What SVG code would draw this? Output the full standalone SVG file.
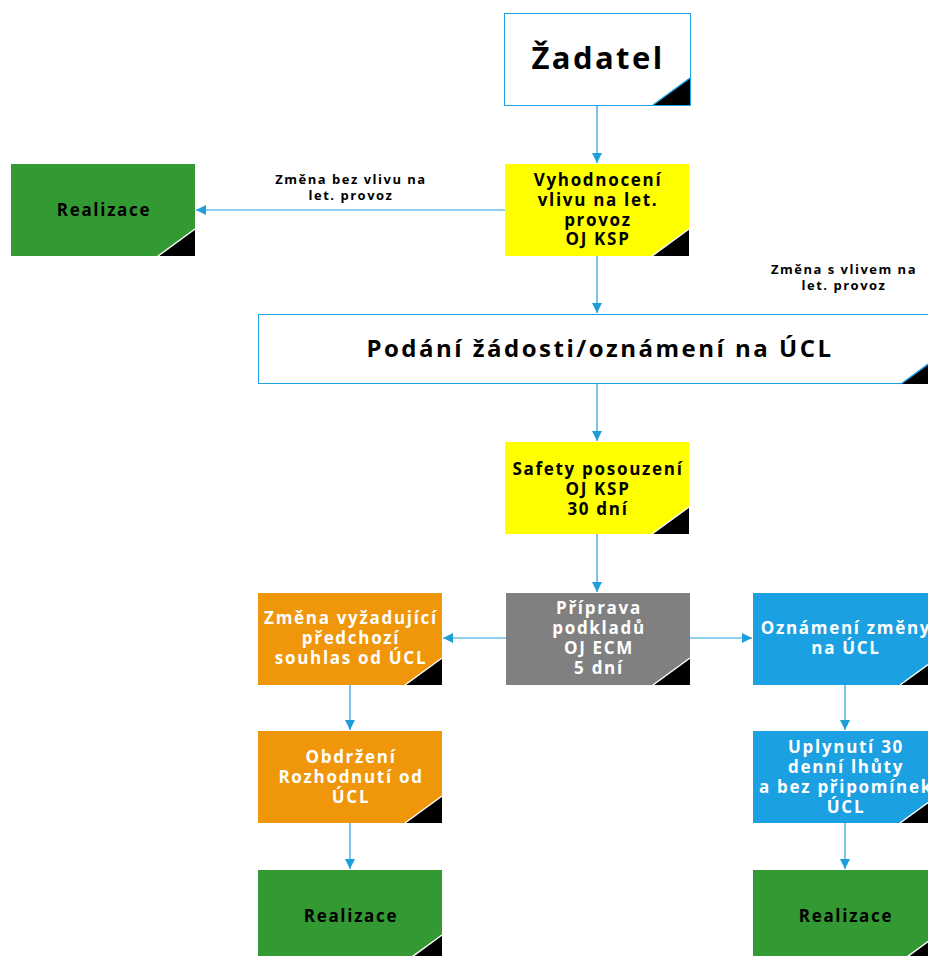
<svg xmlns="http://www.w3.org/2000/svg" width="928" height="956" viewBox="0 0 928 956">
<defs>
<marker id="ah" viewBox="0 0 10 10" refX="10" refY="5" markerWidth="10" markerHeight="10" markerUnits="userSpaceOnUse" orient="auto">
<path d="M0,0 L10,5 L0,10 z" fill="#1e9fd9"/>
</marker>
</defs>
<style>
text{font-family:"Open Sans","Noto Sans","Liberation Sans",sans-serif;font-weight:bold;text-anchor:middle}
.t{font-size:17px;letter-spacing:1.7px}
.w{fill:#ffffff}
.k{fill:#000000}
.lbl{font-size:13px;letter-spacing:1.5px;fill:#000}
.tri{fill:#000}
.edge{stroke:#ffffff;stroke-width:1.5}
.conn{stroke:#1e9fd9;stroke-width:1.2;fill:none;marker-end:url(#ah)}
</style>
<rect width="928" height="956" fill="#ffffff"/>
<g id="connectors">
<line class="conn" x1="597" y1="105" x2="597" y2="163"/>
<line class="conn" x1="505" y1="210" x2="196" y2="210"/>
<line class="conn" x1="597" y1="256" x2="597" y2="313"/>
<line class="conn" x1="597" y1="383" x2="597" y2="441"/>
<line class="conn" x1="597" y1="533" x2="597" y2="592"/>
<line class="conn" x1="506" y1="638" x2="443" y2="638"/>
<line class="conn" x1="689" y1="638" x2="752" y2="638"/>
<line class="conn" x1="350" y1="684" x2="350" y2="730"/>
<line class="conn" x1="350" y1="823" x2="350" y2="869"/>
<line class="conn" x1="845" y1="684" x2="845" y2="730"/>
<line class="conn" x1="845" y1="823" x2="845" y2="869"/>
<text class="lbl" x="351" y="184">Změna bez vlivu na</text>
<text class="lbl" x="351" y="200">let. provoz</text>
<text class="lbl" x="844" y="274">Změna s vlivem na</text>
<text class="lbl" x="844" y="290">let. provoz</text>
</g>
<g id="zadatel">
<rect x="504.5" y="13.5" width="186" height="92" fill="#fff" stroke="#1ba1e2" stroke-width="1"/>
<polygon class="tri" points="653,105 690,78 690,105"/>
<line x1="653" y1="105" x2="690" y2="78" stroke="#1ba1e2" stroke-width="1.5"/>
<text class="k" x="598" y="69" style="font-size:31px;letter-spacing:2.4px">Žadatel</text>
</g>
<g id="realizace1">
<rect x="11" y="164" width="184" height="92" fill="#339933"/>
<polygon class="tri" points="158,256 195,229 195,256"/>
<line class="edge" x1="158" y1="256" x2="195" y2="229"/>
<text class="t k" x="104" y="216">Realizace</text>
</g>
<g id="vyhodnoceni">
<rect x="505" y="164" width="184" height="92" fill="#ffff00"/>
<polygon class="tri" points="652,256 689,229 689,256"/>
<line class="edge" x1="652" y1="256" x2="689" y2="229"/>
<text class="t k" x="598" y="186">Vyhodnocení</text>
<text class="t k" x="598" y="206">vlivu na let.</text>
<text class="t k" x="598" y="226">provoz</text>
<text class="t k" x="598" y="245">OJ KSP</text>
</g>
<g id="podani">
<rect x="258.5" y="314.5" width="680" height="69" fill="#fff" stroke="#1ba1e2" stroke-width="1"/>
<polygon class="tri" points="901,384 938,357 938,384"/>
<line x1="901" y1="384" x2="938" y2="357" stroke="#1ba1e2" stroke-width="1.5"/>
<text class="k" x="600" y="357" style="font-size:24px;letter-spacing:2.5px">Podání žádosti/oznámení na ÚCL</text>
</g>
<g id="safety">
<rect x="505" y="442" width="184" height="92" fill="#ffff00"/>
<polygon class="tri" points="652,534 689,507 689,534"/>
<line class="edge" x1="652" y1="534" x2="689" y2="507"/>
<text class="t k" x="598" y="475">Safety posouzení</text>
<text class="t k" x="598" y="495">OJ KSP</text>
<text class="t k" x="598" y="515">30 dní</text>
</g>
<g id="priprava">
<rect x="506" y="593" width="184" height="92" fill="#808080"/>
<polygon class="tri" points="653,685 690,658 690,685"/>
<line class="edge" x1="653" y1="685" x2="690" y2="658"/>
<text class="t w" x="599" y="614">Příprava</text>
<text class="t w" x="599" y="634">podkladů</text>
<text class="t w" x="599" y="654">OJ ECM</text>
<text class="t w" x="599" y="674">5 dní</text>
</g>
<g id="zmena">
<rect x="258" y="593" width="184" height="92" fill="#f0960a"/>
<polygon class="tri" points="405,685 442,658 442,685"/>
<line class="edge" x1="405" y1="685" x2="442" y2="658"/>
<text class="t w" x="351" y="624">Změna vyžadující</text>
<text class="t w" x="351" y="644">předchozí</text>
<text class="t w" x="351" y="664">souhlas od ÚCL</text>
</g>
<g id="oznameni">
<rect x="753" y="593" width="184" height="92" fill="#1ba1e2"/>
<polygon class="tri" points="900,685 937,658 937,685"/>
<line class="edge" x1="900" y1="685" x2="937" y2="658"/>
<text class="t w" x="846" y="634">Oznámení změny</text>
<text class="t w" x="846" y="654">na ÚCL</text>
</g>
<g id="obdrzeni">
<rect x="258" y="731" width="184" height="92" fill="#f0960a"/>
<polygon class="tri" points="405,823 442,796 442,823"/>
<line class="edge" x1="405" y1="823" x2="442" y2="796"/>
<text class="t w" x="351" y="763">Obdržení</text>
<text class="t w" x="351" y="783">Rozhodnutí od</text>
<text class="t w" x="351" y="803">ÚCL</text>
</g>
<g id="uplynuti">
<rect x="753" y="731" width="184" height="92" fill="#1ba1e2"/>
<polygon class="tri" points="900,823 937,796 937,823"/>
<line class="edge" x1="900" y1="823" x2="937" y2="796"/>
<text class="t w" x="846" y="753">Uplynutí 30</text>
<text class="t w" x="846" y="773">denní lhůty</text>
<text class="t w" x="846" y="793">a bez připomínek</text>
<text class="t w" x="846" y="813">ÚCL</text>
</g>
<g id="realizace2">
<rect x="258" y="870" width="184" height="92" fill="#339933"/>
<polygon class="tri" points="405,962 442,935 442,962"/>
<line class="edge" x1="405" y1="962" x2="442" y2="935"/>
<text class="t k" x="351" y="922">Realizace</text>
</g>
<g id="realizace3">
<rect x="753" y="870" width="184" height="92" fill="#339933"/>
<polygon class="tri" points="900,962 937,935 937,962"/>
<line class="edge" x1="900" y1="962" x2="937" y2="935"/>
<text class="t k" x="846" y="922">Realizace</text>
</g>
</svg>
